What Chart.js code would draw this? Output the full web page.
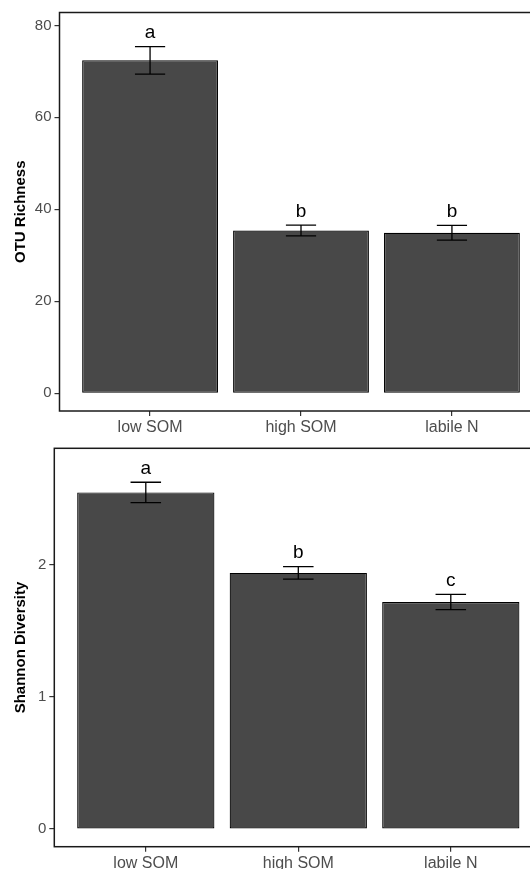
<!DOCTYPE html>
<html>
<head>
<meta charset="utf-8">
<script src="https://cdn.jsdelivr.net/npm/chart.js@4"></script>
<style>
  body { margin: 0; background: #fff; }
  #wrap { position: relative; width: 530px; height: 869px; overflow: hidden; }
  #topBox { position: absolute; left: 0; top: 0; }
  #botBox { position: absolute; left: 0; top: 435px; }
</style>
</head>
<body>
<div id="wrap">
  <div id="topBox"><canvas id="richChart" width="543" height="435"></canvas></div>
  <div id="botBox"><canvas id="shanChart" width="543" height="434"></canvas></div>
</div>
<script>
const categories = ['low SOM', 'high SOM', 'labile N'];

const richMean = [72.4, 35.4, 34.9];
const richSE = [3.0, 1.15, 1.6];
const richLetters = ['a', 'b', 'b'];
const richTicks = [0, 20, 40, 60, 80];

const shanMean = [2.55, 1.94, 1.72];
const shanSE = [0.077, 0.047, 0.058];
const shanLetters = ['a', 'b', 'c'];
const shanTicks = [0, 1, 2];

const FONT = "'Liberation Sans', Arial, sans-serif";
const CAP = 0.2;  // error bar cap width, in category units

// error bars, significance letters and the panel box
const panelExtras = {
    id: 'panelExtras',
    afterDatasetsDraw(chart, args, opts) {
        const { ctx, chartArea: a } = chart;
        const x = chart.scales.x, y = chart.scales.y;
        ctx.save();
        ctx.strokeStyle = '#000';
        ctx.lineWidth = 1.3;
        ctx.fillStyle = '#000';
        ctx.font = `19px ${FONT}`;
        ctx.textAlign = 'center';
        ctx.textBaseline = 'alphabetic';
        opts.means.forEach((m, i) => {
            const cx = x.getPixelForValue(i + 1);
            const hw = x.getPixelForValue(i + 1 + CAP / 2) - cx;
            const top = y.getPixelForValue(m + opts.se[i]);
            const bot = y.getPixelForValue(m - opts.se[i]);
            ctx.beginPath();
            ctx.moveTo(cx, top); ctx.lineTo(cx, bot);
            ctx.moveTo(cx - hw, top); ctx.lineTo(cx + hw, top);
            ctx.moveTo(cx - hw, bot); ctx.lineTo(cx + hw, bot);
            ctx.stroke();
            ctx.fillText(opts.letters[i], cx, top - 8.5);
        });
        ctx.strokeStyle = '#1a1a1a';
        ctx.lineWidth = 1.5;
        ctx.strokeRect(a.left, a.top, a.right - a.left, a.bottom - a.top);
        ctx.restore();
    }
};

function makePanel(id, cfg) {
    return new Chart(document.getElementById(id), {
        type: 'bar',
        data: {
            datasets: [{
                data: cfg.means.map((v, i) => ({ x: i + 1, y: v })),
                backgroundColor: '#484848',
                borderColor: '#000',
                borderWidth: 1.2,
                borderSkipped: false,
                barPercentage: 0.9,
                categoryPercentage: 1
            }]
        },
        options: {
            responsive: false,
            animation: false,
            layout: { padding: cfg.padding },
            plugins: {
                legend: { display: false },
                tooltip: { enabled: false },
                panelExtras: { means: cfg.means, se: cfg.se, letters: cfg.letters }
            },
            scales: {
                x: {
                    type: 'linear',
                    min: 0.4,
                    max: 3.6,
                    offset: false,
                    border: { display: false },
                    grid: { offset: false, drawOnChartArea: false, tickLength: 5, color: '#333', lineWidth: 1.2 },
                    afterBuildTicks: s => { s.ticks = categories.map((c, i) => ({ value: i + 1 })); },
                    ticks: {
                        autoSkip: false,
                        maxRotation: 0,
                        padding: 2,
                        color: '#4d4d4d',
                        font: { family: FONT, size: 16 },
                        callback: v => categories[v - 1] ?? ''
                    },
                    afterFit: s => { s.height = cfg.xHeight; }
                },
                y: {
                    min: cfg.yMin,
                    max: cfg.yMax,
                    border: { display: false },
                    grid: { drawOnChartArea: false, tickLength: 5, color: '#333', lineWidth: 1.2 },
                    afterBuildTicks: s => { s.ticks = cfg.ticks.map(v => ({ value: v })); },
                    ticks: {
                        padding: 3,
                        color: '#4d4d4d',
                        font: { family: FONT, size: 15 }
                    },
                    title: {
                        display: true,
                        text: cfg.title,
                        color: '#000',
                        padding: { top: 12, bottom: 0 },
                        font: { family: FONT, size: 15, weight: 'bold' }
                    },
                    afterFit: s => { s.width = cfg.yWidth; }
                }
            }
        },
        plugins: [panelExtras]
    });
}

makePanel('richChart', {
    means: richMean, se: richSE, letters: richLetters, ticks: richTicks,
    title: 'OTU Richness', yMin: -3.85, yMax: 82.8,
    yWidth: 59.5, xHeight: 24,
    padding: { top: 12.5, right: 0.5, bottom: 0, left: 0 }
});

makePanel('shanChart', {
    means: shanMean, se: shanSE, letters: shanLetters, ticks: shanTicks,
    title: 'Shannon Diversity', yMin: -0.134, yMax: 2.884,
    yWidth: 54.3, xHeight: 22.3,
    padding: { top: 13.3, right: 0.7, bottom: 0, left: 0 }
});
</script>
</body>
</html>
